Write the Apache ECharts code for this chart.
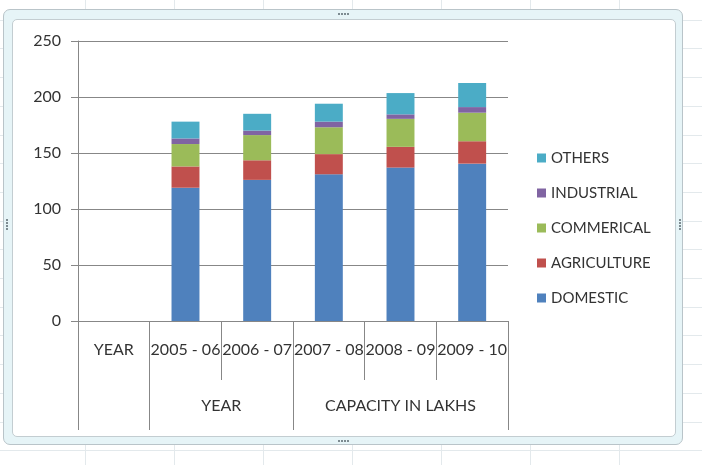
<!DOCTYPE html>
<html lang="en">
<head>
    <meta charset="utf-8">
    <title>Capacity in lakhs</title>
    <script src="https://cdn.jsdelivr.net/npm/echarts@6/dist/echarts.min.js"></script>
    <style>
        html, body {
            margin: 0;
            padding: 0;
            width: 702px;
            height: 465px;
            overflow: hidden;
            background-color: #fff;
            /* spreadsheet cells behind the chart object */
            background-image:
                repeating-linear-gradient(0deg, transparent 0 27.7px, #e3e9ec 27.7px 28.7px),
                repeating-linear-gradient(90deg, transparent 0 88px, #e3e9ec 88px 89px);
            background-position: 0 14px, -3px 0;
        }
        #frame {
            position: absolute;
            left: 3px;
            top: 9px;
            width: 680px;
            height: 436px;
            box-sizing: border-box;
            border: 1px solid #b9c4c9;
            border-radius: 7px;
            background: #e6f4f7;
        }
        #inner {
            position: absolute;
            left: 12px;
            top: 19px;
            width: 664px;
            height: 418px;
            box-sizing: border-box;
            border: 1px solid #c3cdd1;
            border-radius: 5px;
            background: #fff;
        }
        .dots-h {
            position: absolute;
            width: 11px;
            height: 2px;
            background: repeating-linear-gradient(90deg, #7d8b91 0 2px, transparent 2px 3px);
        }
        .dots-v {
            position: absolute;
            width: 2px;
            height: 11px;
            background: repeating-linear-gradient(0deg, #7d8b91 0 2px, transparent 2px 3px);
        }
        #main {
            position: absolute;
            left: 0;
            top: 0;
            width: 702px;
            height: 465px;
        }
    </style>
</head>
<body>
<div id="frame"></div>
<div id="inner"></div>
<div class="dots-h" style="left:338px;top:13px;"></div>
<div class="dots-h" style="left:338px;top:440px;"></div>
<div class="dots-v" style="left:6px;top:219px;"></div>
<div class="dots-v" style="left:679px;top:219px;"></div>
<div id="main"></div>

<script type="text/javascript">
    // 数据
    var categories = ['YEAR', '2005 - 06', '2006 - 07', '2007 - 08', '2008 - 09', '2009 - 10'];
    var domestic    = [null, 119, 126, 131, 137, 140.5];
    var agriculture = [null, 19, 17.5, 18, 18.5, 20];
    var commerical  = [null, 20, 22.5, 24, 25, 25.5];
    var industrial  = [null, 5, 4, 5, 4, 5];
    var others      = [null, 15, 15, 16, 19, 21.5];

    // 第二层分类（起始索引 + 名称）
    var groupNames  = ['', 'YEAR', 'CAPACITY IN LAKHS'];
    var groupStarts = [0, 1, 3];

    var yTicks = [0, 50, 100, 150, 200, 250];

    var colors = ['#4f81bd', '#c0504d', '#9bbb59', '#8064a2', '#4bacc6'];
    var axisColor = '#878787';
    var font = 'Lato';
    var textColor = '#333';

    // 第二层标签位置（半格为单位）
    var groupCenters = {};
    for (var i = 0; i < groupStarts.length; i++) {
        var end = i + 1 < groupStarts.length ? groupStarts[i + 1] : categories.length;
        groupCenters[groupStarts[i] + end] = groupNames[i];
    }

    var myChart = echarts.init(document.getElementById('main'));
    var option = {
        animation: false,
        color: colors,
        grid: {left: 78, right: 194, top: 41, bottom: 144},
        legend: {
            orient: 'vertical',
            left: 537,
            top: 150,
            padding: 0,
            itemWidth: 9,
            itemHeight: 9,
            itemGap: 19,
            icon: 'rect',
            textStyle: {fontFamily: font, fontSize: 15, lineHeight: 16, color: textColor},
            data: ['OTHERS', 'INDUSTRIAL', 'COMMERICAL', 'AGRICULTURE', 'DOMESTIC']
        },
        xAxis: [
            {
                type: 'category',
                data: categories,
                axisLine: {lineStyle: {color: axisColor}},
                axisTick: {
                    show: true,
                    alignWithLabel: false,
                    length: 109,
                    interval: function (idx) { return groupStarts.indexOf(idx) >= 0; },
                    lineStyle: {color: axisColor}
                },
                axisLabel: {
                    interval: 0,
                    margin: 21,
                    fontFamily: font,
                    fontSize: 16,
                    color: textColor
                }
            },
            {
                type: 'category',
                data: categories,
                position: 'bottom',
                axisLine: {show: false},
                axisTick: {
                    show: true,
                    alignWithLabel: false,
                    length: 59,
                    interval: function (idx) { return groupStarts.indexOf(idx) < 0; },
                    lineStyle: {color: axisColor}
                },
                axisLabel: {show: false}
            },
            {
                type: 'value',
                position: 'bottom',
                min: 0,
                max: categories.length * 2,
                interval: 1,
                axisLine: {show: false},
                axisTick: {show: false},
                splitLine: {show: false},
                axisLabel: {
                    margin: 77,
                    fontFamily: font,
                    fontSize: 16,
                    color: textColor,
                    showMinLabel: true,
                    showMaxLabel: true,
                    formatter: function (v) { return groupCenters[v] || ''; }
                }
            }
        ],
        yAxis: {
            type: 'value',
            min: yTicks[0],
            max: yTicks[yTicks.length - 1],
            interval: yTicks[1] - yTicks[0],
            axisLine: {show: true, lineStyle: {color: axisColor}},
            axisTick: {show: true, length: 7, lineStyle: {color: axisColor}},
            splitLine: {lineStyle: {color: axisColor}},
            axisLabel: {margin: 17, fontFamily: font, fontSize: 16, color: textColor}
        },
        series: [
            {name: 'DOMESTIC', type: 'bar', stack: 'cap', barWidth: '39%', data: domestic},
            {name: 'AGRICULTURE', type: 'bar', stack: 'cap', data: agriculture},
            {name: 'COMMERICAL', type: 'bar', stack: 'cap', data: commerical},
            {name: 'INDUSTRIAL', type: 'bar', stack: 'cap', data: industrial},
            {name: 'OTHERS', type: 'bar', stack: 'cap', data: others}
        ]
    };

    myChart.setOption(option);
</script>
</body>
</html>
